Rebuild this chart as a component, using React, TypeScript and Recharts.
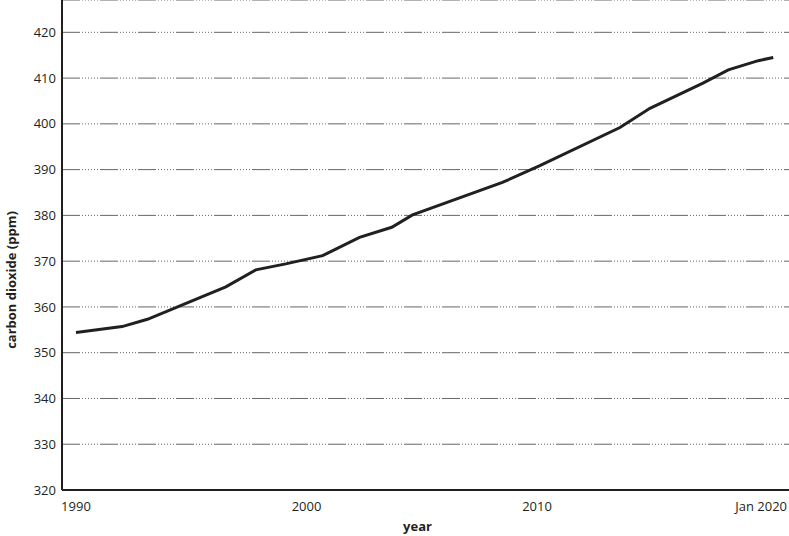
import { LineChart, Line, XAxis, YAxis, CartesianGrid } from "recharts";

// year (decimal) and monthly-mean CO2 readings
const years = [1990.0, 1992.0, 1993.1, 1996.5, 1997.8, 1999.1, 2000.7, 2002.3, 2003.7, 2004.6, 2008.5, 2010.1, 2013.6, 2014.9, 2017.2, 2018.3, 2019.6, 2020.25];
const co2 = [354.4, 355.7, 357.3, 364.4, 368.1, 369.4, 371.2, 375.2, 377.4, 380.1, 387.2, 390.8, 399.2, 403.4, 408.9, 411.8, 413.8, 414.5];

const xTicks = [1990, 2000, 2010, 2020];
const xTickLabels = ["1990", "2000", "2010", "Jan 2020"];
const yTicks = [320, 330, 340, 350, 360, 370, 380, 390, 400, 410, 420];

const data = years.map((year, i) => ({ year, co2: co2[i] }));

const FONT = "'Open Sans', sans-serif";
const INK = "#231f20";

function XTick({ x, y, payload }: any) {
  const idx = xTicks.indexOf(payload.value);
  const label = xTickLabels[idx] ?? String(payload.value);
  const last = idx === xTicks.length - 1;
  return (
    <text
      x={last ? 787 : x}
      y={y}
      dy="0.71em"
      textAnchor={last ? "end" : "middle"}
      fontFamily={FONT}
      fontSize={13}
      fill={INK}
    >
      {label}
    </text>
  );
}

function YLabel() {
  return (
    <text
      x={11}
      y={280}
      transform="rotate(-90 11 280)"
      textAnchor="middle"
      dominantBaseline="central"
      fontFamily={FONT}
      fontSize={13}
      fontWeight="bold"
      fill={INK}
    >
      carbon dioxide (ppm)
    </text>
  );
}

export default function App() {
  return (
    <div style={{ position: "absolute", left: 0, top: 0, background: "#fff" }}>
      <LineChart width={789} height={536} data={data} margin={{ top: 0, right: 0, left: 0, bottom: 0 }}>
        <CartesianGrid
          vertical={false}
          stroke="#666"
          strokeWidth={1}
          strokeDasharray="18 2 1 2 1 2 1 2 1 2 1 2 1 2"
        />
        <XAxis
          dataKey="year"
          type="number"
          domain={[1989.393, 2020.933]}
          allowDataOverflow
          ticks={xTicks}
          tick={<XTick />}
          tickLine={false}
          tickSize={0}
          tickMargin={12}
          height={46}
          axisLine={{ stroke: INK, strokeWidth: 2 }}
          label={{ value: "year", position: "insideBottom", offset: 5, dx: -8, fontFamily: FONT, fontSize: 13, fontWeight: "bold", fill: INK }}
        />
        <YAxis
          type="number"
          domain={[320, 427.06]}
          allowDataOverflow
          ticks={yTicks}
          interval={0}
          width={62}
          tickLine={false}
          tickSize={0}
          tickMargin={6}
          axisLine={{ stroke: INK, strokeWidth: 2 }}
          tick={{ fontFamily: FONT, fontSize: 13, fill: INK }}
          label={<YLabel />}
        />
        <Line
          type="linear"
          dataKey="co2"
          stroke={INK}
          strokeWidth={3}
          dot={false}
          isAnimationActive={false}
        />
      </LineChart>
    </div>
  );
}
